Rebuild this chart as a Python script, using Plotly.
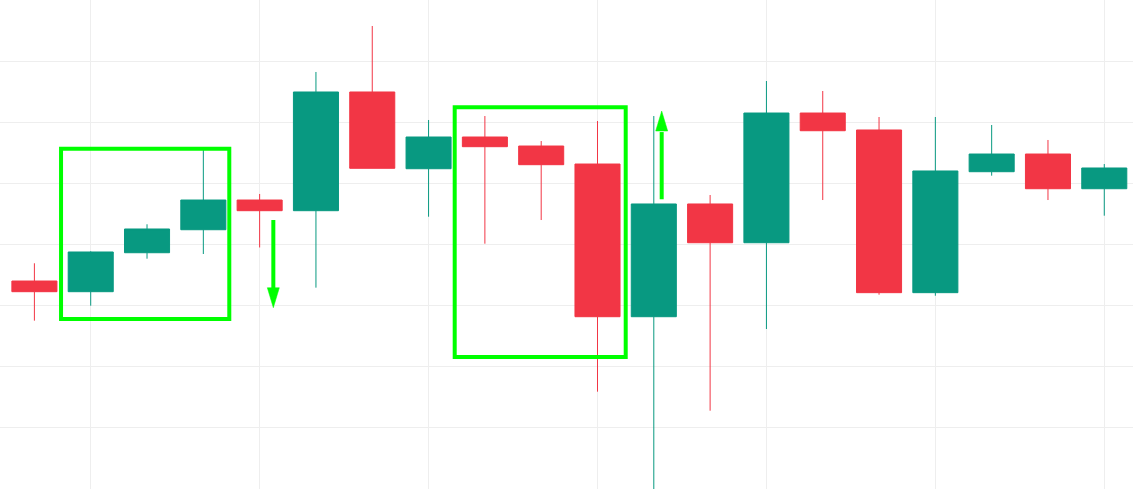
import plotly.graph_objects as go

# ---- data ----
idx = list(range(20))
open_ = [133.98, 132.23, 138.62, 142.39, 147.26, 145.51, 164.97, 152.39, 157.59, 156.11,
         153.16, 128.13, 146.61, 140.26, 161.52, 158.74, 132.07, 151.90, 154.80, 149.11]
high = [136.89, 138.85, 143.28, 155.62, 148.25, 168.25, 175.79, 160.38, 161.03, 156.93,
        160.21, 161.03, 148.08, 166.77, 165.13, 160.87, 160.87, 159.56, 157.10, 153.16]
low = [127.48, 129.93, 137.64, 138.41, 139.48, 132.89, 152.46, 144.52, 140.10, 143.98,
       115.84, 99.70, 112.72, 126.11, 147.26, 131.74, 131.57, 151.25, 147.26, 144.69]
close = [132.23, 138.74, 142.51, 147.26, 145.51, 164.97, 152.46, 157.59, 156.00, 153.05,
         128.13, 146.61, 140.26, 161.52, 158.62, 132.07, 152.02, 154.80, 149.11, 152.51]

# annotation boxes: (x0, x1, y0, y1) in data units
boxes = [(0.473, 3.461, 127.75, 155.67), (7.464, 10.501, 121.52, 162.46)]
# arrows: (x, tail_y, head_base_y, tip_y)
arrows = [(4.243, 143.98, 132.6, 129.6), (11.140, 147.38, 158.4, 161.85)]

UP = "#089981"
DOWN = "#F23645"
MARK = "#00FF00"
GRID = "#EEEEEE"

fig = go.Figure()
fig.add_trace(go.Candlestick(
    x=idx, open=open_, high=high, low=low, close=close,
    increasing=dict(line=dict(color=UP, width=1), fillcolor=UP),
    decreasing=dict(line=dict(color=DOWN, width=1), fillcolor=DOWN),
    whiskerwidth=0, showlegend=False, hoverinfo="none",
))

for x0, x1, y0, y1 in boxes:
    fig.add_shape(type="rect", xref="x", yref="y", x0=x0, x1=x1, y0=y0, y1=y1,
                  line=dict(color=MARK, width=4), fillcolor="rgba(0,0,0,0)")

for x, ty, by, tip in arrows:
    fig.add_shape(type="line", xref="x", yref="y", x0=x, x1=x, y0=ty, y1=by,
                  line=dict(color=MARK, width=4))
    sgn = 1 if tip < ty else -1  # down arrow: base above tip
    fig.add_shape(type="path", xref="x", yref="y",
                  xsizemode="pixel", ysizemode="pixel", xanchor=x, yanchor=tip,
                  path=f"M0,0 L-6,{20*sgn} L6,{20*sgn} Z",
                  fillcolor=MARK, line=dict(color=MARK, width=0.5))

fig.update_layout(
    width=1133, height=489,
    margin=dict(l=0, r=0, t=0, b=0),
    paper_bgcolor="white", plot_bgcolor="white",
    boxgap=0.2, boxgroupgap=0,
    xaxis=dict(range=[-0.611, 19.51], rangeslider=dict(visible=False),
               showticklabels=False, tick0=1, dtick=3, showgrid=True,
               gridcolor=GRID, gridwidth=1, zeroline=False, showline=False,
               fixedrange=True),
    yaxis=dict(range=[99.885, 180.05], showticklabels=False, tick0=100, dtick=10,
               showgrid=True, gridcolor=GRID, gridwidth=1, zeroline=False,
               showline=False, fixedrange=True),
)

fig.write_html("out.html", config=dict(displayModeBar=False),
               post_script="document.body.style.margin='0';document.body.style.overflow='hidden';")
